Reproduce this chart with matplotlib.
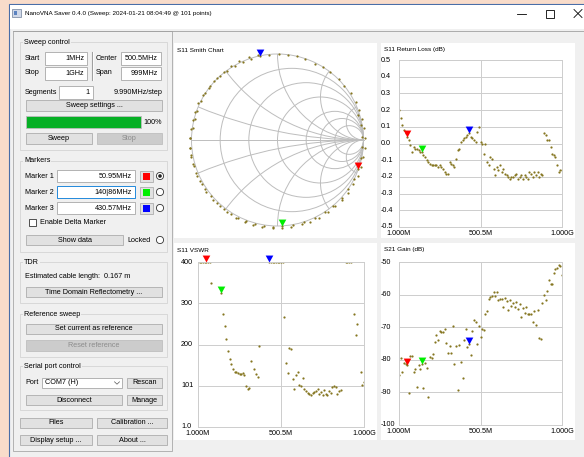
import numpy as np
import matplotlib.pyplot as plt
from matplotlib.patches import Rectangle, Circle

plt.rcParams['font.family'] = ['Liberation Sans', 'DejaVu Sans']

W, H = 584, 457

# sweep: 1 MHz .. 1 GHz, 101 points
start_mhz = 1.0
stop_mhz = 1000.0
n_points = 101
freq = np.linspace(start_mhz, stop_mhz, n_points)

# S11 return loss (dB)
return_loss = [
    0.20, 0.15, 0.11, 0.08, 0.06, 0.04, 0.02, -0.01, -0.05, -0.02,
    -0.03, -0.03, -0.04, -0.05, -0.05, -0.07, -0.08, -0.10, -0.11, -0.12,
    -0.13, -0.13, -0.13, -0.13, -0.14, -0.13, -0.14, -0.15, -0.17, -0.18,
    -0.18, -0.11, -0.12, -0.13, -0.14, -0.09, -0.04, -0.03, 0.01, 0.02,
    0.03, 0.04, 0.05, 0.06, 0.04, 0.03, 0.02, 0.01, 0.07, 0.10,
    0.01, 0.00, -0.06, 0.00, -0.11, -0.13, -0.08, -0.09, -0.15, -0.19,
    -0.14, -0.16, -0.13, -0.17, -0.15, -0.18, -0.19, -0.20, -0.21, -0.20,
    -0.20, -0.19, -0.18, -0.21, -0.20, -0.19, -0.21, -0.19, -0.20, -0.21,
    -0.17, -0.18, -0.20, -0.17, -0.19, -0.17, -0.20, -0.18, -0.19, 0.06,
    0.05, 0.02, 0.02, -0.02, -0.06, -0.07, -0.08, -0.13, -0.17, -0.16,
    -0.16,
]

# S11 VSWR (400 = clipped at top, nan = not drawn)
nan = float('nan')
vswr = [
    400, 400, 400, 400, 400, 400, 400, 400, 349, nan,
    nan, nan, nan, nan, 326, 275, 246, 214, 184, 165,
    153, 142, 135, 133, 131, 130, 128, 131, 126, 100,
    93, 95, 161, nan, 142, 130, 122, 196, nan, nan,
    nan, nan, nan, 400, 400, 400, 400, 400, 400, 400,
    400, 400, 267, 156, 131, 193, 190, 118, 93, 127,
    133, 102, 99, 119, 92, 88, 83, 80, 79, 83,
    86, 88, 94, 82, 86, 78, 90, 80, 78, 88,
    83, 97, 99, 97, 80, 88, 91, nan, nan, 400,
    400, 400, 400, nan, 275, 223, 249, nan, 134, 102,
    110,
]

# S21 gain (dB)
s21_gain = [
    -84.7, -79.4, -83.8, -81.0, -81.4, -81.5, -90.3, -78.9, -78.8, -83.7,
    -82.7, -88.3, -81.6, -82.7, -81.3, -88.6, -80.9, -82.4, -91.3, -79.1,
    -79.6, -78.1, -74.5, -72.4, -74.0, -71.1, -71.4, -71.4, -70.7, -74.8,
    -77.9, -75.8, -77.9, -69.7, -81.3, -75.8, -89.3, -75.5, -80.6, -85.7,
    -74.0, -70.4, -76.0, -75.2, -78.6, -71.1, -67.9, -68.4, -75.0, -69.7,
    -73.0, -70.7, -70.9, -65.8, -65.0, -61.2, -60.7, -60.5, -59.2, -60.5,
    -59.2, -61.7, -61.5, -61.2, -63.8, -60.9, -62.0, -64.8, -61.7, -63.6,
    -62.6, -63.8, -62.2, -64.3, -62.8, -67.0, -64.1, -65.6, -63.8, -65.8,
    -66.0, -66.1, -68.4, -65.0, -69.2, -64.8, -73.2, -73.5, -62.6, -60.2,
    -61.7, -58.9, -55.4, -56.6, -56.8, -53.4, -52.0, -51.7, -51.0, -51.3,
    -54.1,
]

# S11 phase (deg) for the Smith chart
s11_phase = [
    17, 10, 2, -5, -12, -20, -27, -35, -42, -50,
    -57, -64, -72, -80, -87, -93, -99, -105, -111, -117,
    -122, -128, -134, -140, -146, -152, -158, -164, -170, -175,
    -181, -187, -193, -199, -205, -211, -217, -223, -228, -234,
    -240, -246, -252, -258, -264, -271, -277, -283, -289, -296,
    -302, -308, -315, -321, -327, -334, -340, -346, -352, -359,
    -365, -371, -378, -384, -390, -397, -403, -409, -415, -422,
    -428, -434, -441, -447, -453, -460, -466, -472, -478, -485,
    -491, -497, -504, -510, -516, -523, -529, -535, -541, -548,
    -554, -560, -567, -573, -579, -586, -592, -598, -604, -611,
    -617,
]

marker_idx = [5, 14, 43]
marker_colors = ['#ff0000', '#00ee00', '#0000ff']
marker_text = ['50.95MHz', '140|86MHz', '430.57MHz']

freq_ticks = [1.0, 500.5, 1000.0]
freq_labels = ['1.000M', '500.5M', '1.000G']
rl_ticks = [0.5, 0.4, 0.3, 0.2, 0.1, 0.0, -0.1, -0.2, -0.3, -0.4, -0.5]
rl_labels = ['0.5', '0.4', '0.3', '0.2', '0.1', '0.0', '-0.1', '-0.2', '-0.3', '-0.4', '-0.5']
vswr_ticks = [1.0, 101, 200, 300, 400]
vswr_labels = ['1.0', '101', '200', '300', '400']
s21_ticks = [-50, -60, -70, -80, -90, -100]
s21_labels = ['-50', '-60', '-70', '-80', '-90', '-100']
smith_r = [0.2, 0.5, 1, 2, 3, 5]
smith_x = [0.2, 0.5, 1, 2, 5]

BODY = '#f0f0f0'
GRID = '#cdcdcd'
SMITH_GRID = '#bdbdbd'
DOT = '#857620'
FS = 5.2
TICK_FS = 5.2
TITLE_FS = 4.6

fig = plt.figure(figsize=(W / 100, H / 100), dpi=100)
fig.patch.set_facecolor('#f9dcca')
ui = fig.add_axes([0, 0, 1, 1])
ui.set_xlim(0, W)
ui.set_ylim(H, 0)
ui.axis('off')


def box(x0, y0, x1, y1, fc, ec='none', lw=0.6, z=1):
    ui.add_patch(Rectangle((x0, y0), x1 - x0, y1 - y0, fc=fc, ec=ec, lw=lw, zorder=z))


def label(x, y, s, ha='left', color='black', size=FS, **kw):
    ui.text(x, y, s, ha=ha, va='center', color=color, fontsize=size, zorder=5, **kw)


def button(x0, y0, x1, y1, s, enabled=True):
    if enabled:
        box(x0, y0, x1, y1, '#e1e1e1', '#adadad', z=2)
        label((x0 + x1) / 2, (y0 + y1) / 2, s, ha='center')
    else:
        box(x0, y0, x1, y1, '#cccccc', '#bfbfbf', z=2)
        label((x0 + x1) / 2, (y0 + y1) / 2, s, ha='center', color='#8c8c8c')


def field(x0, y0, x1, y1, s, ec='#a8a8a8'):
    box(x0, y0, x1, y1, 'white', ec, z=2)
    label(x1 - 3, (y0 + y1) / 2, s, ha='right')


def group(x0, y0, x1, y1, title):
    box(x0, y0, x1, y1, 'none', '#d4d4d4', z=1)
    label(x0 + 4, y0, title, bbox=dict(fc=BODY, ec='none', pad=0.6))


def radio(x, y, on=False):
    ui.add_patch(Circle((x, y), 3.6, fc='white', ec='#333333', lw=0.6, zorder=3))
    if on:
        ui.add_patch(Circle((x, y), 1.8, fc='#222222', ec='none', zorder=4))


# window frame and title bar
box(9, 4, W + 2, H + 2, BODY, '#4a6ea8', lw=0.8, z=0)
box(9.5, 4.5, W + 2, 29, 'white', z=0.5)
ui.plot([13, W], [31, 31], color='#a0a0a0', lw=0.6, zorder=1)
box(12, 9, 21, 17, '#d0d8e8', '#6d7f99', lw=0.5, z=2)
box(13.5, 11, 17, 15, '#5a82c0', z=3)
label(25, 14, 'NanoVNA Saver 0.4.0 (Sweep: 2024-01-21 08:04:49 @ 101 points)', size=4.5)
ui.plot([517, 526], [13.5, 13.5], color='black', lw=0.6)
box(546, 9.5, 554, 17.5, 'none', 'black', lw=0.6, z=3)
ui.plot([574, 582], [9.5, 17.5], color='black', lw=0.6)
ui.plot([574, 582], [17.5, 9.5], color='black', lw=0.6)

# left control panel
box(13, 31, 172, 451, BODY, '#a8a8a8', lw=0.6, z=0.8)

group(20, 42, 167, 150, 'Sweep control')
label(25, 58, 'Start')
field(45, 52, 87, 65, '1MHz')
label(25, 73, 'Stop')
field(45, 67, 87, 80, '1GHz')
ui.plot([92, 92], [52, 80], color='#a0a0a0', lw=0.8, zorder=2)
ui.plot([93.2, 93.2], [52, 80], color='white', lw=0.6, zorder=2)
label(96, 58, 'Center')
field(121, 52, 161, 65, '500.5MHz')
label(96, 73, 'Span')
field(121, 67, 161, 80, '999MHz')
label(25, 92, 'Segments')
field(59, 86, 93, 99, '1')
label(162, 92, '9.990MHz/step', ha='right')
button(26, 100, 162, 111, 'Sweep settings ...')
box(26, 116, 141, 128, '#06b025', '#bcbcbc', z=2)
label(143, 122, '100%')
button(26, 133, 92, 144, 'Sweep')
button(97, 133, 162, 144, 'Stop', enabled=False)

group(20, 161, 167, 252, 'Markers')
for k, (y, c, s) in enumerate(zip([176, 192, 208], marker_colors, marker_text)):
    label(25, y, 'Marker %d' % (k + 1))
    field(57, y - 6, 135, y + 6, s, ec='#0078d7' if k == 1 else '#a8a8a8')
    box(140, y - 5.5, 153, y + 5.5, '#e1e1e1', '#adadad', z=2)
    box(143, y - 3.5, 150, y + 3.5, c, z=3)
    radio(160, y, on=(k == 0))
box(29, 219, 36, 226, 'white', '#333333', z=2)
label(40, 223, 'Enable Delta Marker')
button(26, 235, 123, 245, 'Show data')
label(127, 240, 'Locked')
radio(160, 240)

group(20, 262, 167, 303, 'TDR')
label(25, 277, 'Estimated cable length:  0.167 m')
button(26, 287, 162, 297, 'Time Domain Reflectometry ...')

group(20, 314, 167, 357, 'Reference sweep')
button(26, 324, 162, 334, 'Set current as reference')
button(26, 340, 162, 351, 'Reset reference', enabled=False)

group(20, 366, 167, 410, 'Serial port control')
label(25, 383, 'Port')
box(42, 378, 122, 388, 'white', '#a8a8a8', z=2)
label(45, 383, 'COM7 (H)')
ui.plot([114.5, 117, 119.5], [381.8, 384.2, 381.8], color='#555555', lw=0.5, zorder=4)
button(127, 378, 162, 388, 'Rescan')
button(26, 395, 122, 405, 'Disconnect')
button(127, 395, 162, 405, 'Manage')

button(20, 418, 92, 428, 'Files')
button(97, 418, 167, 428, 'Calibration ...')
button(20, 435, 92, 445, 'Display setup ...')
button(97, 435, 167, 445, 'About ...')


def px_axes(x0, y0, x1, y1):
    return fig.add_axes([x0 / W, 1 - y1 / H, (x1 - x0) / W, (y1 - y0) / H])


# marker triangle with its tip on the data point
tri = [(-0.55, 1.0), (0.55, 1.0), (0.0, 0.0)]


def rect_chart(widget, area, title, values, ylim, yticks, ylabels, label_x):
    wx0, wy0, wx1, wy1 = widget
    box(wx0, wy0, wx1, wy1, 'white', z=0.9)
    label(wx0 + 3, wy0 + 7, title, size=TITLE_FS)
    ax = px_axes(*area)
    ax.patch.set_visible(False)
    ax.set_xlim(start_mhz, stop_mhz)
    ax.set_ylim(*ylim)
    ax.set_xticks(freq_ticks)
    ax.set_xticklabels(freq_labels)
    ax.set_yticks(yticks)
    ax.grid(True, color=GRID, lw=0.7)
    ax.set_axisbelow(True)
    ax.tick_params(length=0, labelleft=False, labelsize=TICK_FS, pad=2.5)
    for sp in ax.spines.values():
        sp.set_color(GRID)
        sp.set_linewidth(0.7)
    fx = (label_x - area[0]) / (area[2] - area[0])
    for t, s in zip(yticks, ylabels):
        ax.text(fx, t, s, transform=ax.get_yaxis_transform(), ha='left',
                va='center', fontsize=TICK_FS)
    ax.plot(freq, values, ls='none', marker='o', ms=1.6, color=DOT, mec='none')
    for i, c in zip(marker_idx, marker_colors):
        ax.plot([freq[i]], [values[i]], ls='none', marker=tri, ms=10, color=c,
                mec='none', clip_on=False, zorder=5)
    return ax


rect_chart((381, 43, 575, 238), (399, 60, 562, 227), 'S11 Return Loss (dB)',
           return_loss, (-0.5, 0.5), rl_ticks, rl_labels, 381)
rect_chart((174, 243, 377, 440), (198, 262, 364, 427), 'S11 VSWR',
           vswr, (1.0, 400), vswr_ticks, vswr_labels, 181)
rect_chart((381, 243, 575, 440), (399, 262, 562, 425), 'S21 Gain (dB)',
           s21_gain, (-100, -50), s21_ticks, s21_labels, 381)

# Smith chart
box(174, 43, 377, 238, 'white', z=0.9)
label(177, 50, 'S11 Smith Chart', size=TITLE_FS)
cx, cy, rad = 277.5, 140, 86
m = 1.1
sm = px_axes(cx - rad * m, cy - rad * m, cx + rad * m, cy + rad * m)
sm.set_xlim(-m, m)
sm.set_ylim(-m, m)
sm.axis('off')
unit = Circle((0, 0), 1, fc='none', ec=SMITH_GRID, lw=0.7)
sm.add_patch(unit)
for r in smith_r:
    sm.add_patch(Circle((r / (1 + r), 0), 1 / (1 + r), fc='none', ec=SMITH_GRID, lw=0.7))
for x in smith_x:
    for sgn in (1, -1):
        arc = Circle((1, sgn / x), 1 / x, fc='none', ec=SMITH_GRID, lw=0.7)
        sm.add_patch(arc)
        arc.set_clip_path(unit)
sm.plot([-1, 1], [0, 0], color=SMITH_GRID, lw=0.7)

mag = 10 ** (-np.array(return_loss) / 20)
ph = np.radians(s11_phase)
gx = mag * np.cos(ph)
gy = mag * np.sin(ph)
sm.plot(gx, gy, ls='none', marker='o', ms=1.6, color=DOT, mec='none')
for i, c in zip(marker_idx, marker_colors):
    sm.plot([gx[i]], [gy[i]], ls='none', marker=tri, ms=10, color=c, mec='none',
            clip_on=False, zorder=5)

fig.savefig('out.png', dpi=100)
